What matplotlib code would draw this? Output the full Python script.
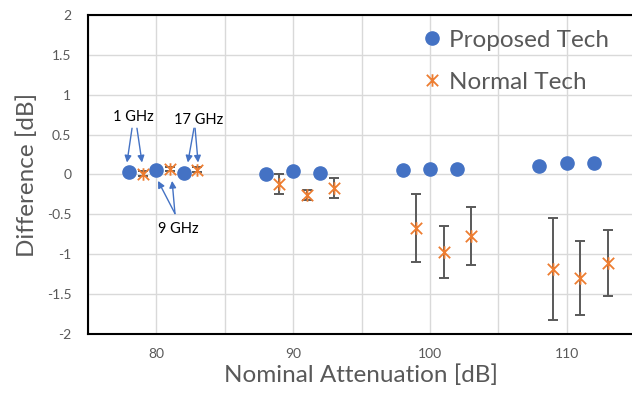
import matplotlib
matplotlib.use("Agg")
import matplotlib.pyplot as plt
from matplotlib.path import Path

plt.rcParams["font.family"] = ["Lato", "DejaVu Sans"]

# Data
prop_x = [78, 80, 82, 88, 90, 92, 98, 100, 102, 108, 110, 112]
prop_y = [0.03, 0.06, 0.02, 0.01, 0.05, 0.02, 0.06, 0.07, 0.07, 0.11, 0.15, 0.14]

norm_x = [79, 81, 83, 89, 91, 93, 99, 101, 103, 109, 111, 113]
norm_y = [0.01, 0.07, 0.06, -0.12, -0.26, -0.17, -0.67, -0.97, -0.77, -1.19, -1.30, -1.11]
norm_err = [0.03, 0.03, 0.03, 0.12, 0.06, 0.12, 0.43, 0.33, 0.36, 0.64, 0.46, 0.41]

x_ticks = [80, 90, 100, 110]
y_ticks = [-2, -1.5, -1, -0.5, 0, 0.5, 1, 1.5, 2]

BLUE = "#4472C4"
ORANGE = "#ED7D31"
GRAY = "#595959"

# Excel-like "star" marker: an x with a vertical stroke
star = Path([(-1, -1), (1, 1), (-1, 1), (1, -1), (0, -1.1), (0, 1.1)],
            [Path.MOVETO, Path.LINETO, Path.MOVETO, Path.LINETO,
             Path.MOVETO, Path.LINETO])

fig = plt.figure(figsize=(6.32, 3.95), dpi=100)
ax = fig.add_axes([88 / 632, 1 - 334 / 395, (635 - 88) / 632, (334 - 15) / 395])

ax.errorbar(norm_x, norm_y, yerr=norm_err, fmt="none", ecolor=GRAY,
            elinewidth=1.4, capsize=3.3, capthick=1.4, zorder=3)
ax.plot(prop_x, prop_y, "o", color=BLUE, markersize=9.5, label="Proposed Tech",
        zorder=4)
ax.plot(norm_x, norm_y, linestyle="none", marker=star, color=ORANGE,
        markersize=9, markeredgewidth=1.3, markerfacecolor="none",
        label="Normal Tech", zorder=4)

ax.set_xlim(75, 115)
ax.set_ylim(-2, 2)
ax.set_xticks(range(75, 116, 5))
ax.set_xticklabels(["" if v not in x_ticks else str(v) for v in range(75, 116, 5)])
ax.set_yticks(y_ticks)
ax.set_yticklabels(["%g" % v for v in y_ticks])
ax.tick_params(length=0, labelsize=10, labelcolor=GRAY, pad=12)
ax.tick_params(axis="x", pad=10)
ax.grid(True, color="#d9d9d9", linewidth=1)
ax.set_axisbelow(True)
for s in ["left", "bottom", "top"]:
    ax.spines[s].set_linewidth(1.5)
    ax.spines[s].set_color("black")
ax.spines["right"].set_visible(False)

ax.set_xlabel("Nominal Attenuation [dB]", fontsize=17.5, color=GRAY, labelpad=3)
ax.set_ylabel("Difference [dB]", fontsize=17.5, color=GRAY, labelpad=6)

leg = ax.legend(loc="upper left", bbox_to_anchor=(403 / 632, 1 - 8 / 395),
                bbox_transform=fig.transFigure, frameon=False, fontsize=17.5,
                labelspacing=0.85, handlelength=0.6, handletextpad=0.4)
for t in leg.get_texts():
    t.set_color(GRAY)

# frequency annotations
arrow = dict(arrowstyle="-|>", color=BLUE, lw=1, mutation_scale=10,
             shrinkA=0, shrinkB=0)
ax.text(78.3, 0.715, "1 GHz", fontsize=10.5, ha="center", va="center")
ax.annotate("", xy=(77.85, 0.15), xytext=(78.22, 0.58), arrowprops=arrow)
ax.annotate("", xy=(78.95, 0.15), xytext=(78.58, 0.58), arrowprops=arrow)
ax.text(83.1, 0.68, "17 GHz", fontsize=10.5, ha="center", va="center")
ax.annotate("", xy=(82.3, 0.15), xytext=(82.75, 0.58), arrowprops=arrow)
ax.annotate("", xy=(83.05, 0.15), xytext=(82.83, 0.58), arrowprops=arrow)
ax.text(81.6, -0.68, "9 GHz", fontsize=10.5, ha="center", va="center")
ax.annotate("", xy=(80.12, -0.08), xytext=(81.36, -0.49), arrowprops=arrow)
ax.annotate("", xy=(81.15, -0.08), xytext=(81.36, -0.49), arrowprops=arrow)

fig.savefig("out.png", dpi=100)
